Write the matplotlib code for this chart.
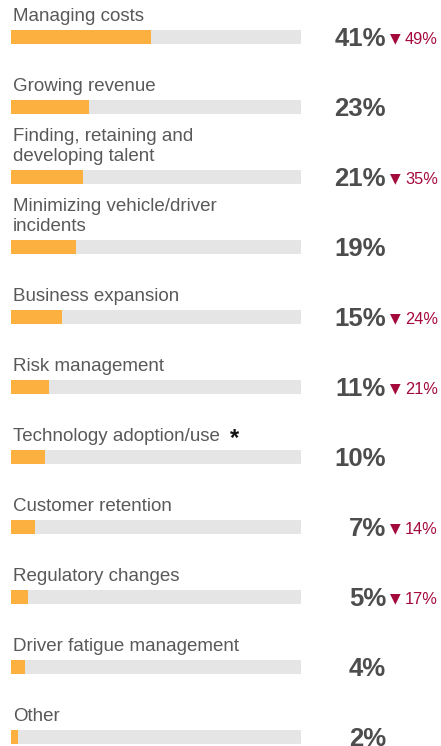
import matplotlib
matplotlib.use("Agg")
import matplotlib.pyplot as plt
from matplotlib import transforms

categories = ["Managing costs", "Growing revenue", "Finding, retaining and\ndeveloping talent",
              "Minimizing vehicle/driver\nincidents", "Business expansion", "Risk management",
              "Technology adoption/use", "Customer retention", "Regulatory changes",
              "Driver fatigue management", "Other"]
values = [41, 23, 21, 19, 15, 11, 10, 7, 5, 4, 2]
previous = [49, None, 35, None, 24, 21, None, 14, 17, None, None]
starred = [False, False, False, False, False, False, True, False, False, False, False]
track_max = 85

W, H = 441, 746
fig = plt.figure(figsize=(W / 100, H / 100), dpi=100)
ax = fig.add_axes([11 / W, 0, 290 / W, 1])
pitch = 70.0
first = 36.5
ax.set_ylim((H - first) / pitch, -first / pitch)
ax.set_xlim(0, track_max)
ax.axis("off")

ys = list(range(len(categories)))
ax.barh(ys, [track_max] * len(ys), height=14 / pitch, color="#e5e5e5", left=0)
ax.barh(ys, values, height=14 / pitch, color="#fbb040", left=0)

tr = transforms.blended_transform_factory(fig.transFigure, ax.transData)
FONT = "Liberation Sans"
px = lambda p: p / pitch

for i, (cat, v, pv, st) in enumerate(zip(categories, values, previous, starred)):
    fig.text(13 / W, i - px(11.5), cat, transform=tr, ha="left", va="bottom",
             fontsize=13.5, color="#595959", family=FONT, linespacing=1.2)
    if st:
        fig.text(229.5 / W, i - px(11), "*", transform=tr, ha="left", va="baseline",
                 fontsize=17, fontweight="bold", color="#111111", family=FONT)
    fig.text(386 / W, i + px(9.5), f"{v}%", transform=tr, ha="right", va="baseline",
             fontsize=18.5, fontweight="bold", color="#4d4d4d", family=FONT)
    if pv is not None:
        fig.text(390 / W, i + px(2.0), "\u25BC", transform=tr, ha="left", va="center",
                 fontsize=10, color="#a50a3c", family="DejaVu Sans")
        fig.text(405 / W, i + px(7.0), f"{pv}%", transform=tr, ha="left", va="baseline",
                 fontsize=11.8, color="#a50a3c", family=FONT)

fig.savefig("out.png", dpi=100)
